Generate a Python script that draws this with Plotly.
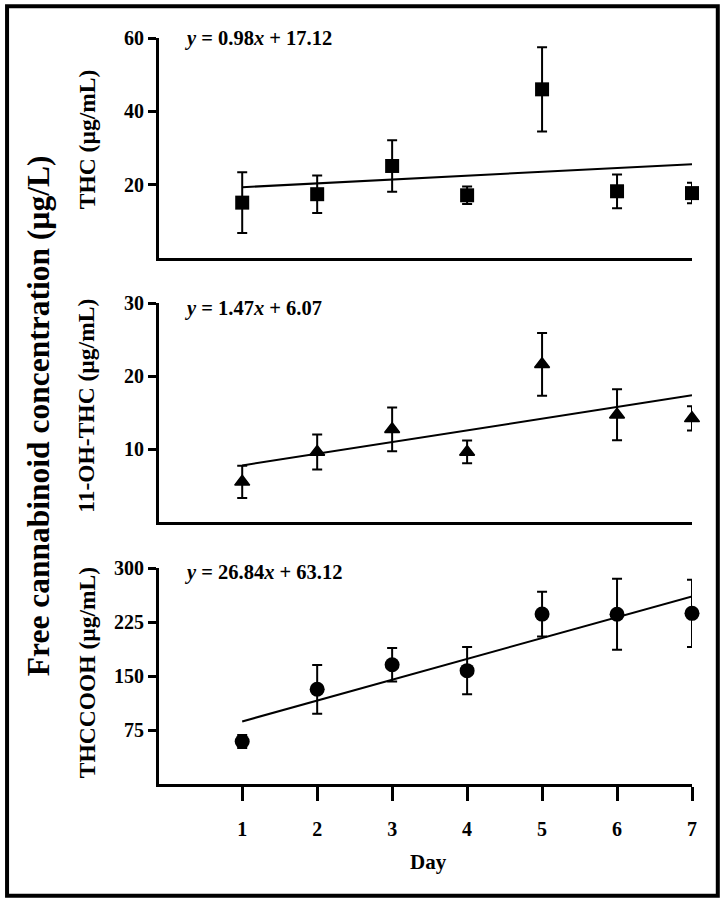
import plotly.graph_objects as go

# ---------------- data ----------------
days = [1, 2, 3, 4, 5, 6, 7]

thc_mean = [15.1, 17.4, 25.1, 17.1, 46.0, 18.2, 17.7]
thc_err = [8.3, 5.1, 7.0, 2.4, 11.5, 4.6, 2.8]

oh_mean = [5.5, 9.6, 12.7, 9.6, 21.6, 14.7, 14.2]
oh_err = [2.2, 2.4, 3.0, 1.55, 4.3, 3.5, 1.65]

cooh_mean = [59, 131.5, 165.7, 157.4, 236, 235.8, 237]
cooh_err = [9, 33.8, 23.2, 32.9, 31, 49.3, 46.8]

trend_days = [1, 7]
thc_trend = [19.3, 25.6]
oh_trend = [7.75, 17.35]
cooh_trend = [86.9, 260.6]

thc_ticks = [20, 40, 60]
oh_ticks = [10, 20, 30]
cooh_ticks = [75, 150, 225, 300]

equations = ["<i>y</i> = 0.98<i>x</i> + 17.12",
             "<i>y</i> = 1.47<i>x</i> + 6.07",
             "<i>y</i> = 26.84<i>x</i> + 63.12"]
panel_titles = ["THC (µg/mL)", "11-OH-THC (µg/mL)", "THCCOOH (µg/mL)"]
main_title = "Free cannabinoid concentration (µg/L)"
x_title = "Day"

# ---------------- layout geometry ----------------
W, H = 723, 904
ML, MR, MT, MB = 158.5, 31.3, 38.3, 119.7
PW = W - ML - MR
PH = H - MT - MB


def px2fx(px):
    return (px - ML) / PW


def px2fy(py):
    return (H - MB - py) / PH


FONT = "Liberation Serif, Times New Roman, serif"
BLACK = "#000000"

fig = go.Figure()

panels = [
    dict(mean=thc_mean, err=thc_err, trend=thc_trend, sym="square", size=14,
         xa="x", ya="y", lw=0),
    dict(mean=oh_mean, err=oh_err, trend=oh_trend, sym="triangle-up", size=13,
         xa="x2", ya="y2", lw=1.5),
    dict(mean=cooh_mean, err=cooh_err, trend=cooh_trend, sym="circle", size=15,
         xa="x3", ya="y3", lw=0),
]

for p in panels:
    fig.add_trace(go.Scatter(
        x=trend_days, y=p["trend"], mode="lines",
        line=dict(color=BLACK, width=2), xaxis=p["xa"], yaxis=p["ya"],
        showlegend=False, cliponaxis=False, hoverinfo="skip"))
    fig.add_trace(go.Scatter(
        x=days, y=p["mean"], mode="markers",
        marker=dict(symbol=p["sym"], size=p["size"], color=BLACK,
                    line=dict(color=BLACK, width=p["lw"])),
        error_y=dict(type="data", array=p["err"], visible=True,
                     color=BLACK, thickness=2, width=5),
        xaxis=p["xa"], yaxis=p["ya"], showlegend=False, cliponaxis=False))

domains = [
    [px2fy(258.3), 1.0],
    [px2fy(522.3), px2fy(303.3)],
    [0.0, px2fy(568.3)],
]
yranges = [[0, 60], [0, 30], [0, 300]]
yticks = [thc_ticks, oh_ticks, cooh_ticks]

tickfont = dict(family=FONT, size=20, color=BLACK, weight="bold")

layout = dict(
    width=W, height=H,
    margin=dict(l=ML, r=MR, t=MT, b=MB, pad=0),
    paper_bgcolor="white", plot_bgcolor="white",
    showlegend=False,
)

for i in range(3):
    xk = "xaxis" if i == 0 else f"xaxis{i+1}"
    yk = "yaxis" if i == 0 else f"yaxis{i+1}"
    yname = "y" if i == 0 else f"y{i+1}"
    xname = "x" if i == 0 else f"x{i+1}"
    last = (i == 2)
    layout[xk] = dict(
        domain=[0, 1], anchor=yname, range=[-0.11, 7.0],
        showline=True, linecolor=BLACK, linewidth=3,
        showgrid=False, zeroline=False,
        tickmode="array", tickvals=days if last else [],
        ticktext=[str(d) for d in days] if last else [],
        ticks="outside" if last else "", ticklen=14, tickwidth=2.5,
        tickcolor=BLACK, showticklabels=last, tickfont=tickfont,
        ticklabelstandoff=11,
    )
    layout[yk] = dict(
        domain=domains[i], anchor=xname, range=yranges[i],
        showline=True, linecolor=BLACK, linewidth=3,
        showgrid=False, zeroline=False,
        tickmode="array", tickvals=yticks[i],
        ticks="outside", ticklen=8, tickwidth=2.5, tickcolor=BLACK,
        tickfont=tickfont,
    )

fig.update_layout(**layout)

annotations = []
eq_y = [39, 309, 573]
for i in range(3):
    annotations.append(dict(
        text=f"<b>{equations[i]}</b>", xref="paper", yref="paper",
        x=px2fx(182), y=px2fy(eq_y[i]), xanchor="left", yanchor="middle",
        showarrow=False, font=dict(family=FONT, size=20.5, color=BLACK)))

title_y = [140, 406.5, 673]
for i in range(3):
    annotations.append(dict(
        text=f"<b>{panel_titles[i]}</b>", xref="paper", yref="paper",
        x=px2fx(86), y=px2fy(title_y[i]), xanchor="center", yanchor="middle",
        textangle=-90, showarrow=False,
        font=dict(family=FONT, size=23.5, color=BLACK)))

annotations.append(dict(
    text=f"<b>{main_title}</b>", xref="paper", yref="paper",
    x=px2fx(38), y=px2fy(416), xanchor="center", yanchor="middle",
    textangle=-90, showarrow=False,
    font=dict(family=FONT, size=31.5, color=BLACK)))

annotations.append(dict(
    text=f"<b>{x_title}</b>", xref="paper", yref="paper",
    x=px2fx(428), y=px2fy(862), xanchor="center", yanchor="middle",
    showarrow=False, font=dict(family=FONT, size=21, color=BLACK)))

fig.update_layout(annotations=annotations)

fig.add_shape(type="rect", xref="paper", yref="paper",
              x0=px2fx(6.5), x1=px2fx(717.5), y0=px2fy(896), y1=px2fy(6.5),
              line=dict(color=BLACK, width=4), fillcolor="rgba(0,0,0,0)",
              layer="above")

fig.write_html("out.html",
               config={"displayModeBar": False},
               post_script="document.body.style.margin='0';"
                           "document.body.style.overflow='hidden';")
